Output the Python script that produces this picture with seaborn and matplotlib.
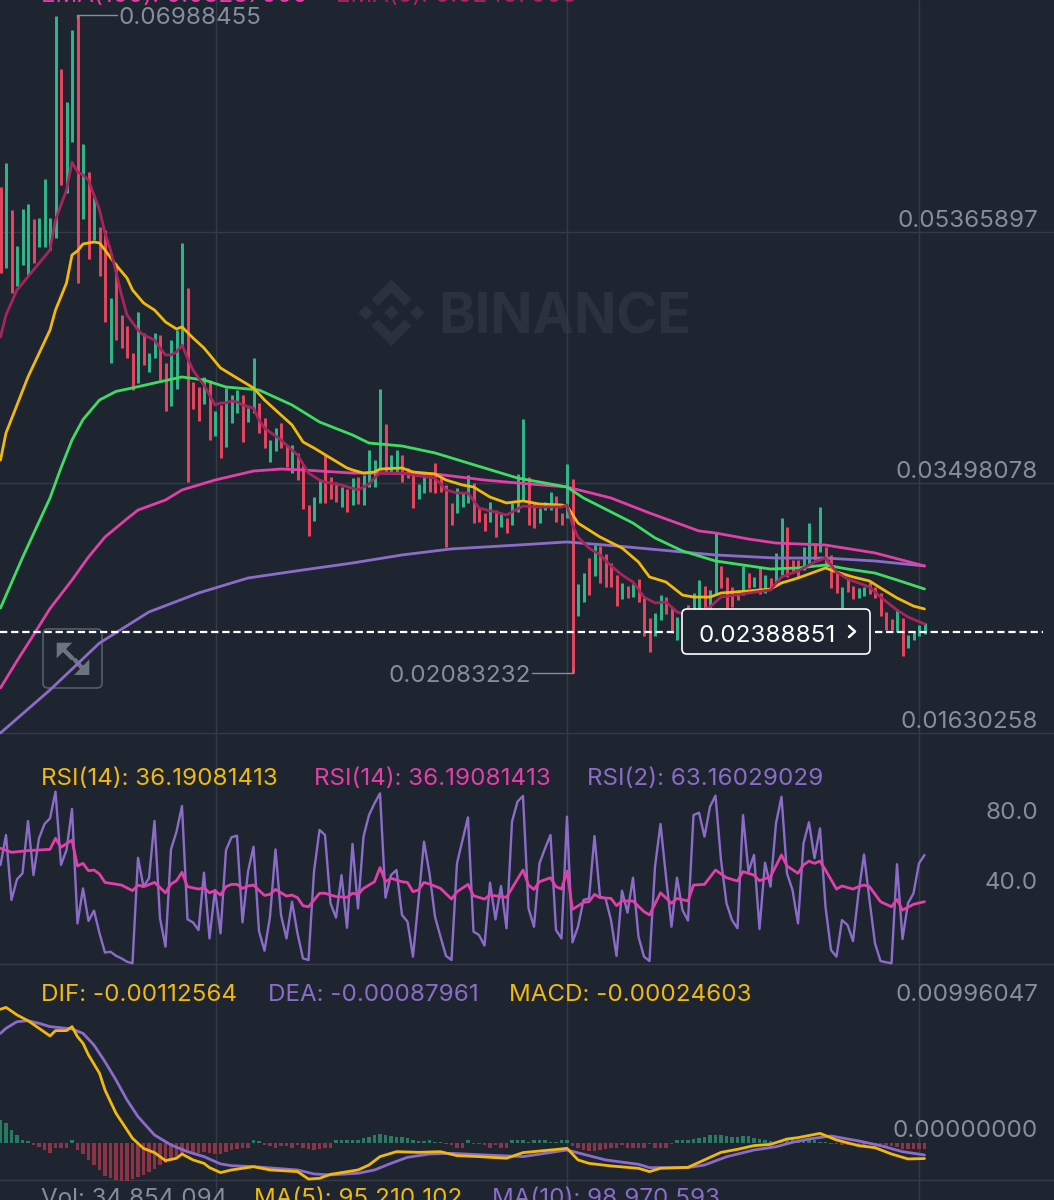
import numpy as np
import pandas as pd
import matplotlib
matplotlib.use("Agg")
import matplotlib.pyplot as plt
from matplotlib.patches import FancyBboxPatch, Polygon
import seaborn as sns

# all prices below are in thousandths (0.0534 -> 53.4)
CANDLE_SIDES = ("rgrgggrggg" "grggrgrgrr" "grrrrgrggr" "rgggrrrgrg" "rgggrggrrg"
                "grrgrrrggr" "rrgrgrgggg" "rggrrrggrr" "rrrgggrrrg" "rgrgggrrgg"
                "grrgrggrgr" "rrrgrgrrrg" "grrgrrggrg" "grrrrgrgrg" "rggrrrggrg"
                "rrrgrrggrr" "rrrgrgggg")
HIGH = [57.05, 58.84, 55.33, 52.65, 55.41, 55.78, 54.66, 54.74, 57.65, 54.74,
        69.81, 65.85, 63.39, 68.76, 69.88, 60.26, 58.17, 56.30, 54.07, 53.84,
        48.77, 51.38, 47.50, 46.68, 44.67, 47.72, 46.16, 44.67, 46.16, 46.01,
        43.92, 45.64, 46.38, 52.87, 49.52, 42.50, 42.13, 42.88, 42.65, 40.34,
        40.79, 42.06, 41.53, 41.91, 41.53, 40.56, 44.29, 40.94, 39.82, 38.18,
        39.07, 39.44, 37.80, 37.80, 37.21, 36.31, 33.33, 33.92, 35.19, 37.13,
        35.42, 35.04, 34.67, 34.52, 35.34, 35.42, 35.57, 37.43, 36.68, 41.98,
        39.37, 37.06, 37.43, 37.06, 36.09, 35.79, 34.89, 35.79, 35.57, 36.46,
        35.34, 34.82, 33.48, 34.60, 34.22, 35.57, 34.97, 33.10, 32.73, 33.55,
        32.95, 32.73, 32.36, 33.48, 35.64, 39.74, 35.42, 33.48, 33.10, 33.55,
        34.30, 34.00, 32.73, 36.39, 35.27, 27.43, 28.25, 29.37, 30.34, 30.27,
        29.67, 29.00, 28.11, 27.51, 27.28, 27.43, 27.81, 26.39, 24.90, 25.27,
        26.61, 26.46, 25.72, 24.97, 25.49, 25.87, 26.76, 27.73, 27.28, 26.99,
        31.24, 28.78, 27.96, 27.21, 26.99, 28.78, 28.25, 27.96, 28.78, 28.11,
        27.88, 29.75, 32.36, 31.69, 29.22, 29.22, 30.19, 31.98, 30.49, 33.18,
        30.19, 29.60, 28.25, 27.21, 27.81, 27.28, 27.14, 27.21, 27.58, 27.21,
        26.76, 25.35, 24.82, 25.49, 24.90, 23.63, 23.85, 24.38, 24.53]
LOW = [50.63, 51.01, 49.14, 49.66, 51.23, 50.49, 51.38, 52.57, 52.57, 52.35,
       53.25, 57.20, 56.60, 60.41, 49.89, 54.66, 51.68, 53.10, 50.41, 46.98,
       43.92, 45.64, 45.04, 44.29, 41.91, 42.43, 43.77, 43.25, 44.29, 42.65,
       40.34, 40.71, 41.98, 45.26, 35.04, 40.49, 39.59, 40.86, 38.18, 38.47,
       36.83, 37.65, 39.44, 40.19, 38.03, 39.52, 40.19, 38.70, 37.58, 36.53,
       37.35, 37.58, 36.16, 35.71, 35.19, 33.03, 31.01, 32.13, 33.48, 33.48,
       33.77, 33.55, 33.18, 32.80, 33.33, 33.40, 33.33, 34.67, 34.67, 35.94,
       35.79, 35.71, 35.64, 35.04, 35.34, 33.10, 33.77, 34.22, 34.30, 34.22,
       34.30, 30.19, 31.84, 32.73, 33.18, 33.48, 31.98, 32.06, 31.39, 32.06,
       30.94, 31.69, 31.24, 31.84, 32.80, 33.70, 31.84, 31.61, 31.98, 32.95,
       32.95, 32.06, 31.84, 32.36, 20.83, 25.05, 26.09, 26.61, 28.03, 27.51,
       27.21, 27.21, 25.79, 26.31, 26.39, 26.46, 26.09, 23.55, 22.36, 23.55,
       24.75, 25.20, 23.78, 23.26, 24.00, 24.00, 24.38, 24.75, 24.90, 25.12,
       26.61, 27.14, 25.35, 25.72, 26.24, 26.61, 27.14, 27.21, 26.69, 26.76,
       27.14, 27.58, 28.11, 27.96, 28.33, 27.96, 28.48, 28.70, 29.22, 29.82,
       28.63, 27.14, 26.76, 25.64, 26.84, 26.31, 26.39, 26.54, 26.69, 26.39,
       25.05, 24.00, 24.00, 23.85, 22.06, 22.66, 23.26, 23.55, 23.70]

EMA5_AT = [0, 1, 3, 6, 9, 10, 12, 13, 14, 15, 16, 17, 18, 19, 20, 21, 22, 23, 25, 26,
           28, 29, 30, 31, 32, 33, 34, 35, 36, 37, 38, 39, 40, 41, 42, 43, 44, 46, 47, 48,
           49, 51, 52, 53, 54, 55, 56, 58, 59, 62, 65, 67, 68, 69, 73, 75, 79, 81, 83, 85,
           87, 90, 92, 95, 98, 102, 103, 104, 105, 107, 109, 111, 113, 115, 117, 119, 121, 123, 125, 127,
           129, 131, 136, 140, 142, 145, 148, 150, 152, 154, 158, 160, 163, 165, 168]
EMA5 = [45.86, 47.50, 49.37, 50.86, 52.35, 54.59, 56.83, 58.91, 58.17, 57.95, 57.57, 56.45, 55.33, 53.62, 52.35, 50.71, 48.99, 47.50, 46.38, 46.01,
        45.64, 45.04, 44.52, 44.52, 44.74, 45.26, 44.29, 43.40, 42.80, 42.28, 41.53, 40.79, 40.94, 40.94, 41.09, 41.01, 40.79, 40.56, 39.67, 39.07,
        38.77, 38.18, 37.80, 37.43, 37.06, 36.39, 35.71, 35.19, 35.04, 34.82, 34.45, 34.89, 35.34, 35.71, 35.71, 35.57, 35.34, 34.45, 34.22, 34.22,
        33.10, 32.80, 32.58, 33.25, 33.18, 33.18, 33.33, 31.84, 30.94, 30.12, 29.60, 28.78, 28.11, 27.58, 26.46, 26.02, 26.09, 25.35, 25.12, 25.35,
        25.72, 26.46, 26.76, 26.99, 27.96, 28.40, 29.07, 29.37, 28.33, 27.81, 27.21, 26.46, 25.49, 24.97, 24.45]
EMA_YELLOW_AT = [0, 1, 5, 9, 10, 12, 13, 14, 15, 17, 18, 19, 21, 23, 24, 26, 28, 30, 32, 33,
                 35, 37, 40, 43, 46, 48, 51, 53, 55, 57, 60, 63, 64, 66, 68, 69, 73, 75, 79, 81,
                 84, 86, 89, 92, 95, 98, 102, 103, 105, 109, 113, 116, 118, 121, 124, 126, 129, 131, 136, 140,
                 142, 145, 148, 150, 152, 155, 158, 160, 163, 166, 168]
EMA_YELLOW = [36.68, 38.70, 42.88, 46.38, 47.87, 49.89, 51.98, 52.28, 52.80, 52.95, 52.87, 52.35, 51.23, 50.26, 49.37, 48.40, 47.87, 46.98, 46.46, 46.61,
              45.79, 45.04, 43.55, 42.80, 42.06, 41.16, 40.04, 39.30, 38.03, 37.58, 36.83, 36.09, 35.94, 35.71, 35.79, 36.01, 36.09, 35.79, 35.64, 35.19,
              34.82, 34.67, 33.92, 33.48, 33.63, 33.40, 33.33, 33.25, 31.98, 30.94, 30.12, 29.07, 27.96, 27.58, 26.61, 26.46, 26.46, 26.76, 26.91, 27.06,
              27.51, 27.88, 28.33, 28.63, 28.33, 27.96, 27.66, 27.14, 26.39, 25.79, 25.57]
EMA_GREEN_AT = [0, 4, 9, 11, 13, 15, 18, 21, 24, 28, 33, 37, 41, 47, 53, 58, 64, 67, 73, 79,
                85, 94, 103, 106, 115, 119, 124, 130, 140, 145, 150, 154, 159, 163, 168]
EMA_GREEN = [25.64, 29.40, 33.85, 36.10, 38.18, 39.70, 41.16, 41.80, 42.06, 42.43, 42.88, 42.65, 42.13, 41.91, 40.79, 39.52, 38.55, 37.95, 37.73, 37.21,
             36.46, 35.34, 34.67, 33.85, 31.98, 30.87, 29.90, 29.15, 28.55, 28.63, 28.85, 28.55, 28.25, 27.73, 27.06]
EMA_PINK_AT = [0, 3, 6, 9, 13, 16, 19, 23, 25, 30, 33, 39, 46, 51, 55, 64, 69, 79, 88, 94,
               103, 111, 118, 127, 130, 136, 141, 150, 159, 168]
EMA_PINK = [19.68, 21.70, 23.63, 25.60, 27.73, 29.45, 30.94, 32.30, 32.95, 33.70, 34.45, 35.19, 35.86, 36.01, 35.94, 35.71, 35.71, 35.64, 35.19, 34.97,
            34.67, 33.85, 32.73, 31.39, 31.24, 30.79, 30.49, 30.34, 29.75, 28.78]
EMA_PURPLE_AT = [0, 9, 18, 27, 36, 45, 55, 64, 73, 82, 94, 103, 112, 124, 130, 141, 150, 159, 168]
EMA_PURPLE = [16.32, 19.53, 23.03, 25.35, 26.76, 27.88, 28.48, 29.00, 29.60, 30.05, 30.34, 30.57, 30.27, 29.82, 29.60, 29.37, 29.37, 29.15, 28.78]

RSI2 = [56.6, 73.7, 36.6, 48.4, 51.8, 81.7, 50.8, 71.8, 80.0, 83.2,
        98.5, 56.6, 65.1, 88.6, 23.2, 43.2, 24.6, 30.5, 17.5, 6.5,
        7.0, 4.7, 3.2, 1.3, 0.4, 60.7, 44.2, 49.0, 81.7, 26.1,
        9.9, 65.5, 75.6, 90.3, 25.5, 23.8, 19.4, 52.2, 14.6, 42.3,
        17.5, 65.1, 72.4, 73.3, 23.8, 52.8, 67.0, 18.8, 7.6, 27.0,
        65.5, 28.0, 14.6, 35.6, 17.5, 3.2, 2.3, 52.8, 76.6, 73.7,
        34.7, 26.5, 50.8, 20.7, 68.6, 31.8, 72.8, 85.1, 91.8, 97.5,
        37.9, 50.8, 53.7, 28.0, 24.2, 4.2, 36.6, 69.9, 51.8, 27.0,
        15.6, 4.6, 2.3, 57.5, 70.8, 83.8, 18.5, 16.6, 10.5, 46.5,
        25.5, 44.6, 20.4, 81.3, 92.8, 96.0, 31.8, 21.3, 57.5, 66.0,
        73.7, 19.4, 14.6, 84.2, 12.4, 21.3, 36.6, 37.5, 73.1, 38.5,
        37.5, 25.1, 4.6, 41.9, 29.3, 49.3, 15.6, 4.2, 1.7, 55.6,
        80.0, 49.9, 21.3, 49.3, 30.8, 24.8, 85.1, 86.5, 72.8, 89.9,
        96.2, 59.4, 34.7, 25.1, 20.4, 85.1, 52.8, 62.3, 20.0, 57.9,
        44.2, 80.4, 95.6, 51.8, 42.3, 23.2, 68.9, 81.0, 60.4, 77.5,
        32.7, 8.0, 4.2, 25.1, 22.3, 13.1, 40.4, 62.6, 36.6, 11.8,
        1.7, 1.0, 0.4, 57.0, 14.3, 34.7, 40.4, 57.5, 62.3]
RSI14_AT = [0, 2, 5, 9, 10, 11, 13, 14, 15, 16, 17, 18, 19, 22, 24, 25, 26, 28, 30, 31,
            32, 33, 34, 36, 37, 38, 39, 40, 41, 42, 43, 44, 45, 46, 48, 49, 50, 52, 53, 54,
            55, 56, 58, 59, 61, 63, 64, 65, 66, 68, 69, 70, 71, 73, 74, 75, 76, 77, 78, 80,
            82, 83, 85, 86, 88, 89, 92, 95, 96, 97, 98, 100, 101, 102, 103, 104, 106, 107, 108, 109,
            111, 112, 113, 115, 117, 118, 120, 122, 123, 125, 126, 128, 130, 132, 134, 135, 137, 138, 140, 142,
            143, 145, 146, 147, 148, 149, 150, 152, 153, 155, 156, 157, 158, 160, 162, 163, 164, 166, 168]
RSI14 = [66.1, 63.8, 64.8, 65.5, 71.8, 66.7, 70.8, 56.0, 57.5, 53.3, 53.7, 51.4, 46.6, 45.1, 41.9, 45.1, 44.2, 46.6, 40.7, 45.7,
         47.6, 52.4, 44.2, 42.8, 43.6, 40.7, 41.9, 39.4, 44.2, 45.5, 45.5, 43.2, 44.6, 45.1, 39.2, 39.8, 42.6, 38.8, 39.4, 37.9,
         33.3, 32.7, 40.4, 40.4, 38.5, 38.1, 40.4, 39.8, 43.2, 47.0, 55.1, 47.0, 49.0, 47.0, 46.6, 41.3, 42.3, 46.6, 45.7, 43.2,
         37.1, 41.3, 45.5, 39.0, 37.1, 39.4, 38.1, 53.7, 45.1, 42.6, 47.0, 49.3, 44.2, 42.8, 53.1, 31.2, 35.2, 35.6, 39.8, 37.9,
         37.5, 33.3, 36.0, 36.0, 29.9, 28.0, 40.7, 34.7, 37.5, 36.0, 45.1, 45.5, 53.7, 49.3, 47.4, 52.8, 50.8, 47.6, 49.9, 62.3,
         56.0, 51.8, 56.6, 58.8, 57.5, 58.8, 53.7, 42.8, 44.6, 42.8, 44.2, 45.1, 44.2, 35.6, 32.7, 36.9, 30.8, 34.1, 35.6]

HIST = [1.65, 1.45, .97, .61, .24, .12, -.17, -.29, -.53, -.73,
        -.36, -.36, -.36, .19, -.53, -.82, -1.26, -1.62, -1.99, -2.40,
        -2.52, -2.71, -2.76, -2.79, -2.59, -2.47, -2.30, -2.11, -1.87, -1.62,
        -1.45, -1.14, -1.02, -.73, -.58, -.70, -.70, -.65, -.73, -.78,
        -.78, -.65, -.53, -.41, -.36, -.36, .24, .12, -.12, -.22,
        -.36, -.22, -.22, -.36, -.17, -.36, -.46, -.53, -.41, -.36,
        -.36, .19, .19, .19, .22, .24, .34, .44, .56, .68,
        .56, .51, .44, .44, .36, .24, .15, .15, .24, .10,
        .10, -.07, -.12, -.36, -.36, .24, -.10, -.10, -.12, -.34,
        -.12, -.34, -.34, .19, .20, .19, .10, .24, .24, .24,
        .10, .10, .20, .20, -.24, -.36, -.48, -.58, -.55, -.50,
        -.45, -.39, -.36, -.15, -.36, -.36, -.36, -.36, -.10, -.36,
        -.36, -.36, -.10, .24, .24, .24, .30, .36, .44, .56,
        .60, .60, .50, .46, .40, .50, .50, .36, .30, .20,
        .15, .10, .25, .30, .30, .25, .20, .20, .20, .10,
        .05, -.07, -.10, -.12, -.15, -.12, -.12, -.12, -.10, -.10,
        -.15, -.20, -.22, -.30, -.40, -.40, -.42, -.45, -.45]
DIF_AT = [0, 1, 3, 5, 7, 9, 10, 12, 13, 14, 15, 16, 18, 19, 21, 23, 24, 26, 28, 30,
          32, 33, 35, 37, 38, 40, 42, 46, 49, 54, 56, 58, 60, 65, 67, 69, 72, 76, 80, 83,
          87, 92, 95, 100, 103, 105, 107, 111, 116, 118, 120, 125, 131, 134, 137, 140, 143, 145, 149, 152,
          156, 159, 162, 165, 168]
DIF = [9.72, 9.86, 9.31, 8.89, 8.34, 7.78, 8.17, 8.17, 8.46, 7.73, 7.25, 6.40, 5.07, 3.85, 2.16, .95, .34, -.39, -.70, -1.28,
       -1.11, -.80, -1.23, -1.48, -1.79, -2.15, -1.96, -1.72, -1.96, -2.08, -2.62, -2.57, -2.28, -1.96, -1.60, -.99, -.63, -.68, -.63, -.92,
       -.99, -1.11, -.70, -.51, -.39, -1.23, -1.48, -1.67, -1.84, -2.08, -1.84, -1.77, -.68, -.46, -.19, -.10, .29, .39, .70, .22,
       -.19, -.34, -.80, -1.16, -1.13]
DEA_AT = [0, 1, 3, 5, 7, 9, 13, 15, 17, 19, 21, 23, 25, 28, 31, 34, 37, 40, 42, 46,
          50, 54, 57, 60, 65, 68, 71, 74, 78, 82, 88, 95, 103, 110, 116, 118, 125, 128, 132, 137,
          141, 144, 147, 151, 156, 160, 164, 168]
DEA = [7.97, 8.34, 8.82, 8.89, 8.70, 8.46, 8.29, 7.97, 7.12, 5.91, 4.58, 3.13, 1.92, .58, -.14, -.63, -.99, -1.52, -1.65, -1.72,
       -1.84, -1.96, -2.25, -2.32, -2.20, -1.96, -1.48, -1.04, -.80, -.75, -.87, -.99, -.51, -1.23, -1.55, -1.79, -1.79, -1.60, -1.00, -.51,
       -.27, .05, .29, .51, .15, -.19, -.63, -.87]

TIME_GRID = [39.2, 103, 167]
PRICE_GRID = [53.65897, 34.98078, 16.30258]
LAST_PRICE = 23.88851

BG = "#1e2530"
GRID = "#343a46"
GRAY = "#848e9c"
YELLOW = "#f0b90b"
GREEN_LINE = "#3fdc62"
PINK = "#e33fa8"
PURPLE = "#8c6cc9"
MAGENTA = "#a8245f"
CANDLE = {"g": "#2fb98a", "r": "#ea4560"}
BAR = {"g": "#287a62", "r": "#8e3346"}
FONT = "Inter"
W, H = 1054, 1200

sns.set_theme(style="dark", rc={"figure.facecolor": BG, "axes.facecolor": "none", "savefig.facecolor": BG})
plt.rcParams["font.family"] = FONT

idx = np.arange(len(HIGH))
sides = list(CANDLE_SIDES)


def panel(fig, top, bottom):
    ax = fig.add_axes([0, 1 - bottom / H, 1, (bottom - top) / H])
    # 5.5 px per candle, first candle at x=0.5
    ax.set_xlim(-0.5 / 5.5, (W - 0.5) / 5.5)
    ax.set_xticks(TIME_GRID)
    return ax


def finish(ax, hlines):
    ax.set_yticks(hlines)
    ax.set(xlabel="", ylabel="")
    ax.grid(True, color=GRID, linewidth=1.0)
    ax.tick_params(length=0, labelleft=False, labelbottom=False)
    sns.despine(ax=ax, left=True, bottom=True)


def draw_line(ax, x, y, color, lw=2.0):
    sns.lineplot(x=x, y=y, ax=ax, color=color, linewidth=lw,
                 estimator=None, legend=False, solid_joinstyle="round", zorder=4)


def label(ax, x, y, s, color=GRAY, ha="left", size=17.4, **kw):
    # va=center sits about 2 px high for digit-only strings
    ax.text(x, y + 2, s, color=color, ha=ha, va="center", fontsize=size, family=FONT, **kw)


fig = plt.figure(figsize=(W / 100, H / 100), dpi=100)

# watermark and expand button go under the chart
under = fig.add_axes([0, 0, 1, 1], zorder=0)
under.set_xlim(0, W)
under.set_ylim(H, 0)
under.axis("off")
wm = "#2c323d"
cx, cy = 391.5, 312.7
chevron = [(0, -33.3), (-20, -13.3), (-13.3, -6.7), (0, -20), (13.3, -6.7), (20, -13.3)]
under.add_patch(Polygon([(cx + a, cy + b) for a, b in chevron], color=wm, lw=0))
under.add_patch(Polygon([(cx + a, cy - b) for a, b in chevron], color=wm, lw=0))
for off in (-25.7, 0, 25.7):
    under.add_patch(Polygon([(cx + off - 7.3, cy), (cx + off, cy - 7.3), (cx + off + 7.3, cy), (cx + off, cy + 7.3)],
                            color=wm, lw=0))
under.text(438, 318, "BINANCE", color=wm, fontsize=40, fontweight="bold", family="Inter", va="center", ha="left")
under.add_patch(FancyBboxPatch((46, 632), 53, 53, boxstyle="round,pad=3,rounding_size=5", fc="none",
                               ec="#565d6a", lw=1.2))
under.add_patch(Polygon([(56.7, 642.7), (72.3, 642.7), (56.7, 658.3)], color="#6c7480", lw=0))
under.add_patch(Polygon([(89.3, 675), (74, 675), (89.3, 659.3)], color="#6c7480", lw=0))
under.plot([62, 72], [648, 658], color="#6c7480", lw=3.2)
under.plot([84, 75], [670, 660], color="#6c7480", lw=3.2)

# price panel
ax_price = panel(fig, 0, 735)
ax_price.set_zorder(1)
ax_price.set_ylim(71 - 0.0746 * 735, 71)
frame = pd.DataFrame({"i": idx, "high": HIGH, "low": LOW, "side": sides})
for side, rows in frame.groupby("side"):
    ax_price.vlines(rows["i"], rows["low"], rows["high"], color=CANDLE[side], linewidth=2.1, zorder=3)
draw_line(ax_price, EMA_PURPLE_AT, EMA_PURPLE, PURPLE)
draw_line(ax_price, EMA_PINK_AT, EMA_PINK, PINK)
draw_line(ax_price, EMA_GREEN_AT, EMA_GREEN, GREEN_LINE)
draw_line(ax_price, EMA_YELLOW_AT, EMA_YELLOW, YELLOW)
draw_line(ax_price, EMA5_AT, EMA5, MAGENTA)
finish(ax_price, PRICE_GRID)
dashes = (0, (3.3, 1.7))
ax_price.hlines(LAST_PRICE, -0.1, 122.6, color="white", linewidth=1.6, linestyles=dashes, zorder=5)
ax_price.hlines(LAST_PRICE, 159, 189.5, color="white", linewidth=1.6, linestyles=dashes, zorder=5)

# rsi panel, 40 points per 70 px
ax_rsi = panel(fig, 735, 966)
ax_rsi.set_zorder(1)
ax_rsi.set_ylim((964 - 966) * 40 / 70, (964 - 735) * 40 / 70)
draw_line(ax_rsi, idx, RSI2, PURPLE, lw=1.7)
draw_line(ax_rsi, RSI14_AT, RSI14, PINK, lw=2.0)
finish(ax_rsi, [0])

# macd panel
ax_macd = panel(fig, 966, 1182)
ax_macd.set_zorder(1)
sns.barplot(x=idx, y=HIST, hue=["g" if v > 0 else "r" for v in HIST], palette=BAR, native_scale=True,
            dodge=False, width=0.72, errorbar=None, legend=False, saturation=1, edgecolor="none", linewidth=0,
            ax=ax_macd, zorder=2)
draw_line(ax_macd, DEA_AT, DEA, PURPLE)
draw_line(ax_macd, DIF_AT, DIF, YELLOW)
ax_macd.set_xlim(-0.5 / 5.5, (W - 0.5) / 5.5)
ax_macd.set_ylim((1143 - 1182) * 0.0727, (1143 - 966) * 0.0727)
ax_macd.set_xticks(TIME_GRID)
finish(ax_macd, [(1143 - 1180) * 0.0727])

ax_vol = panel(fig, 1182, H)
ax_vol.set_zorder(1)
ax_vol.set_ylim(0, 1)
finish(ax_vol, [])

# texts on top
top = fig.add_axes([0, 0, 1, 1], zorder=5)
top.set_xlim(0, W)
top.set_ylim(H, 0)
top.axis("off")

label(top, 41, -6, "EMA(100): 0.03237900", PINK)
label(top, 336, -6, "EMA(5): 0.02457906", MAGENTA)
for y, s in [(219, "0.05365897"), (470, "0.03498078"), (720, "0.01630258"),
             (811, "80.0"), (881, "40.0"), (993, "0.00996047"), (1129, "0.00000000")]:
    label(top, 1038, y, s, ha="right")

label(top, 119, 16, "0.06988455")
top.plot([77, 77, 117], [18, 14.5, 14.5], color=GRAY, lw=1.0)
label(top, 389, 674, "0.02083232")
top.plot([532, 573, 573], [672.5, 672.5, 669], color=GRAY, lw=1.0)

top.add_patch(FancyBboxPatch((686, 613), 180, 37, boxstyle="round,pad=4,rounding_size=5", fc=BG, ec="white", lw=1.2))
label(top, 698, 634, "0.02388851", "white")
top.plot([849, 855, 849], [626, 631.5, 637], color="white", lw=1.8)

label(top, 41, 777, "RSI(14): 36.19081413", YELLOW)
label(top, 314, 777, "RSI(14): 36.19081413", PINK)
label(top, 587, 777, "RSI(2): 63.16029029", PURPLE)
label(top, 41, 993, "DIF: -0.00112564", YELLOW)
label(top, 268, 993, "DEA: -0.00087961", PURPLE)
label(top, 509, 993, "MACD: -0.00024603", YELLOW)
label(top, 41, 1197, "Vol: 34,854,094")
label(top, 254, 1197, "MA(5): 95,210,102", YELLOW)
label(top, 492, 1197, "MA(10): 98,970,593", PURPLE)

fig.savefig("out.png", dpi=100, facecolor=BG)
